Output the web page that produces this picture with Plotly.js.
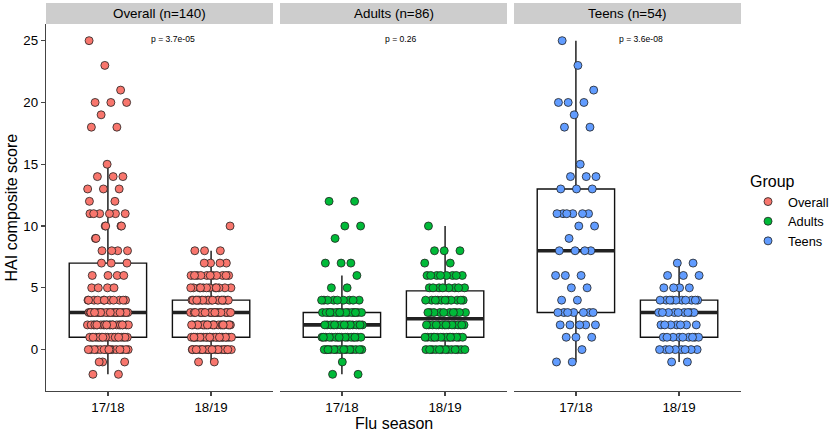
<!DOCTYPE html>
<html><head><meta charset="utf-8">
<script src="https://cdn.plot.ly/plotly-3.0.1.min.js"></script>
<style>html,body{margin:0;padding:0;background:#fff}#chart{width:829px;height:433px}</style>
</head><body><div id="chart"></div>
<script>
// ---------- data ----------
const seasons = ['17/18', '18/19'];
const groups = ['Overall', 'Adults', 'Teens'];
const groupN = [140, 86, 54];
const pLabels = ['p = 3.7e-05', 'p = 0.26', 'p = 3.6e-08'];
const yTicks = [0, 5, 10, 15, 20, 25];

const adults1718 = [-2,-2,-1,
  0,0,0,0,0,0,0,0,0,0,0,0,0,0,
  1,1,1,1,1,1,1,1,1,1,1,1,1,1,1,1,
  2,2,2,2,2,2,2,2,2,2,2,2,2,2,2,2,2,
  3,3,3,3,3,3,3,3,3,3,3,3,3,3,3,3,
  4,4,4,4,4,4,4,4,4,
  5,5,6,7,7,7,9,10,10,12,12];
const adults1819 = [
  0,0,0,0,0,0,0,0,0,0,0,0,0,
  1,1,1,1,1,1,1,1,1,1,1,1,1,1,1,
  2,2,2,2,2,2,2,2,2,2,2,2,2,2,2,
  3,3,3,3,3,3,3,3,3,3,
  4,4,4,4,4,4,4,4,4,4,4,
  5,5,5,5,5,5,5,5,
  6,6,6,6,6,6,6,6,
  7,7,8,8,8,10];
const teens1718 = [-1,-1,0,1,1,1,2,2,2,2,2,3,3,3,3,3,3,3,4,4,5,5,6,6,6,
  8,8,8,8,9,10,10,11,11,11,11,11,11,13,13,13,14,14,14,15,18,18,19,20,20,20,21,23,25];
const teens1819 = [-1,-1,0,0,0,0,0,0,0,0,1,1,1,1,1,1,1,1,1,2,2,2,2,2,2,2,
  3,3,3,3,3,3,3,3,3,4,4,4,4,4,4,4,4,4,4,5,5,5,5,6,6,6,7,7];
// Overall = all subjects (adults + teens)
const overall1718 = adults1718.concat(teens1718);
const overall1819 = adults1819.concat(teens1819);
const groupData = [[overall1718, overall1819], [adults1718, adults1819], [teens1718, teens1819]];

// ---------- styling ----------
const colors = ['#F8766D', '#00BA38', '#619CFF'];
const FONT = '"Liberation Sans", Arial, sans-serif';
const boxW = 0.75, jitW = 0.2;
const axisNames = ['x', 'x2', 'x3'];
const domains = [[0, 0.32662], [0.33669, 0.66331], [0.67338, 1]];
const yTop = 0.9459;

function quant(s, p) { const h = (s.length - 1) * p, lo = Math.floor(h); return lo + 1 < s.length ? s[lo] + (h - lo) * (s[lo + 1] - s[lo]) : s[lo]; }
function stats(v) {
  const s = v.slice().sort((a, b) => a - b);
  const q1 = quant(s, 0.25), med = quant(s, 0.5), q3 = quant(s, 0.75), iqr = q3 - q1;
  const lo = Math.min(...s.filter(d => d >= q1 - 1.5 * iqr));
  const hi = Math.max(...s.filter(d => d <= q3 + 1.5 * iqr));
  return {q1, med, q3, lo, hi};
}
const GOLD = 0.6180339887;
function jitter(k, seed) { const u = ((k * GOLD + seed) % 1); return (u - 0.5) * 2 * jitW; }

const traces = [];
groups.forEach((g, gi) => {
  const xa = axisNames[gi];
  seasons.forEach((s, si) => {
    const st = stats(groupData[gi][si]);
    traces.push({type: 'box', x: [si], q1: [st.q1], median: [st.med], q3: [st.q3],
      lowerfence: [st.lo], upperfence: [st.hi], width: boxW, boxpoints: false,
      whiskerwidth: 0, fillcolor: 'rgba(0,0,0,0)', line: {color: '#111', width: 1.4},
      xaxis: xa, yaxis: 'y', showlegend: false, hoverinfo: 'skip'});
    traces.push({type: 'scatter', mode: 'lines', x: [si - boxW / 2, si + boxW / 2], y: [st.med, st.med],
      line: {color: '#222', width: 3.6}, xaxis: xa, yaxis: 'y', showlegend: false, hoverinfo: 'skip'});
  });
});
groups.forEach((g, gi) => {
  const xa = axisNames[gi];
  seasons.forEach((s, si) => {
    const vals = groupData[gi][si];
    traces.push({type: 'scatter', mode: 'markers', name: g, legendgroup: g,
      showlegend: si === 0,
      x: vals.map((v, k) => si + jitter(k, 0.137 * (gi + 1) + 0.29 * si)), y: vals,
      marker: {color: colors[gi], size: 8, line: {color: '#222', width: 0.8}},
      xaxis: xa, yaxis: 'y'});
  });
});

const layout = {
  width: 829, height: 433, paper_bgcolor: '#fff', plot_bgcolor: '#fff',
  margin: {l: 46, r: 88, t: 3, b: 42, autoexpand: false},
  font: {family: FONT, color: '#000', size: 13.3},
  showlegend: true,
  legend: {x: 1.0101, y: 0.58, xanchor: 'left', yanchor: 'top',
    title: {text: 'Group', font: {size: 16, color: '#000'}},
    font: {size: 12.8, color: '#000'}, tracegroupgap: 0, bgcolor: 'rgba(0,0,0,0)'},
  yaxis: {domain: [0, yTop], range: [-3.35, 26.35], anchor: 'x', tickvals: yTicks,
    showline: true, linecolor: '#444', linewidth: 1.3, ticks: 'outside', ticklen: 4,
    tickwidth: 1.3, tickcolor: '#444', showgrid: false, zeroline: false,
    tickfont: {size: 13.3, color: '#000'}},
  shapes: [], annotations: []
};
groups.forEach((g, gi) => {
  const key = gi === 0 ? 'xaxis' : 'xaxis' + (gi + 1);
  layout[key] = {domain: domains[gi], range: [-0.6, 1.6], anchor: 'y', tickvals: [0, 1], ticktext: seasons,
    showline: true, linecolor: '#444', linewidth: 1.3, ticks: 'outside', ticklen: 4,
    tickwidth: 1.3, tickcolor: '#444', showgrid: false, zeroline: false,
    tickfont: {size: 13.3, color: '#000'}};
  layout.shapes.push({type: 'rect', xref: axisNames[gi] + ' domain', yref: 'paper', x0: 0, x1: 1, y0: yTop, y1: 1,
    fillcolor: '#CDCDCD', line: {width: 0}, layer: 'below'});
  layout.annotations.push({xref: axisNames[gi] + ' domain', yref: 'paper', x: 0.5, y: (yTop + 1) / 2,
    xanchor: 'center', yanchor: 'middle', text: g + ' (n=' + groupN[gi] + ')', showarrow: false,
    font: {size: 13.4, color: '#000'}});
  layout.annotations.push({xref: axisNames[gi], yref: 'y', x: 0.4, y: 25.1, xanchor: 'left', yanchor: 'middle',
    text: pLabels[gi], showarrow: false, font: {size: 8.6, color: '#000'}});
});
layout.annotations.push({xref: 'paper', yref: 'paper', x: 0.5, y: -0.0825, xanchor: 'center', yanchor: 'middle',
  text: 'Flu season', showarrow: false, font: {size: 16, color: '#000'}});
layout.annotations.push({xref: 'paper', yref: 'paper', x: -0.049, y: yTop / 2, xanchor: 'center', yanchor: 'middle',
  text: 'HAI composite score', textangle: -90, showarrow: false, font: {size: 16, color: '#000'}});

Plotly.newPlot('chart', traces, layout, {staticPlot: true, displayModeBar: false});
</script></body></html>
